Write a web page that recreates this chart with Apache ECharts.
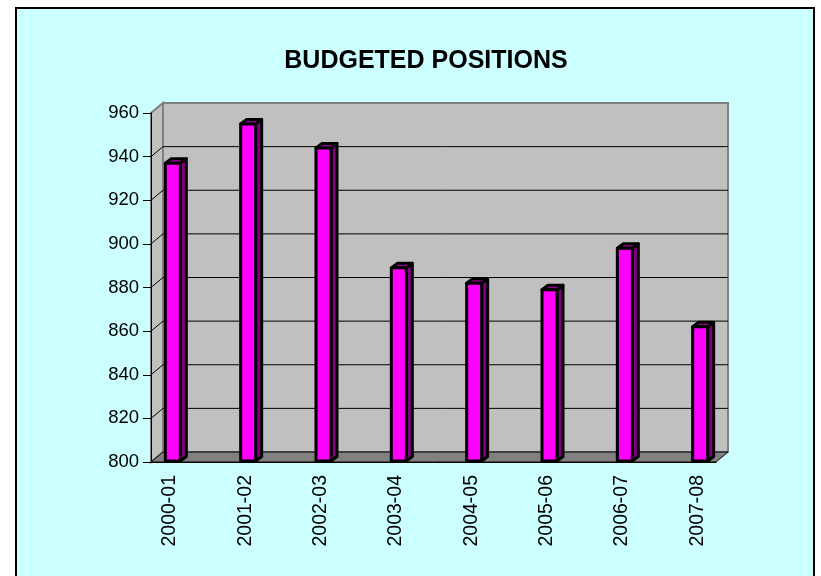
<!DOCTYPE html>
<html>
<head>
<meta charset="utf-8">
<script src="https://cdn.jsdelivr.net/npm/echarts@6/dist/echarts.min.js"></script>
<style>
  html, body { margin: 0; padding: 0; background: #ffffff; }
  #frame { position: absolute; left: 15px; top: 7px; width: 796px; height: 600px;
           border: 2px solid #000; background: #ccffff; }
  #chart { position: absolute; left: 0; top: 0; width: 821px; height: 576px; }
</style>
</head>
<body>
<div id="frame"></div>
<div id="chart"></div>
<script>
// fiscal years and budgeted positions
var years = ['2000-01', '2001-02', '2002-03', '2003-04', '2004-05', '2005-06', '2006-07', '2007-08'];
var positions = [937, 955, 944, 889, 882, 879, 898, 862];
var yTicks = [800, 820, 840, 860, 880, 900, 920, 940, 960];

// the Excel 3D axis puts every bar in every other slot, so spread them out
var slots = [];
for (var i = 0; i < years.length * 2 - 1; i++) {
    slots.push(i % 2 === 0 ? years[i / 2] : '');
}
var barData = years.map(function (y, i) { return [i * 2, positions[i]]; });

var DX = 12, DY = -10;   // depth of walls
var BDX = 6, BDY = -4.5; // depth of bars
var font = 'Liberation Sans, Arial, sans-serif';

var chart = echarts.init(document.getElementById('chart'));

var option = {
    animation: false,
    title: {
        text: 'BUDGETED POSITIONS',
        left: 421,
        top: 44,
        textAlign: 'center',
        textStyle: { fontFamily: font, fontSize: 25, fontWeight: 'bold', color: '#000' }
    },
    grid: { left: 151, right: 105, top: 113, bottom: 114 },
    xAxis: {
        type: 'category',
        data: slots,
        z: 5,
        boundaryGap: true,
        axisLine: { lineStyle: { color: '#000', width: 1 } },
        axisTick: { interval: 0, length: 8, lineStyle: { color: '#000' } },
        axisLabel: { interval: 0, rotate: 90, margin: 13, fontFamily: font, fontSize: 19.5, color: '#000' },
        splitLine: { show: false }
    },
    yAxis: {
        type: 'value',
        min: 800,
        max: 960,
        interval: 20,
        z: 5,
        axisLine: { show: true, lineStyle: { color: '#000', width: 1 } },
        axisTick: { show: true, length: 8, lineStyle: { color: '#000' } },
        axisLabel: { margin: 12, fontFamily: font, fontSize: 18.5, color: '#000' },
        splitLine: { show: false }
    },
    series: [
        {
            // walls, floor and grid lines of the 3D box
            type: 'custom',
            z: 1,
            silent: true,
            data: [[0, 800]],
            renderItem: function (params, api) {
                var cs = params.coordSys;
                var x0 = cs.x, x1 = cs.x + cs.width;
                var yB = api.coord([0, yTicks[0]])[1];
                var yT = api.coord([0, yTicks[yTicks.length - 1]])[1];
                var children = [
                    {
                        type: 'polygon',
                        shape: { points: [[x0, yB], [x0, yT], [x0 + DX, yT + DY], [x0 + DX, yB + DY]] },
                        style: { fill: '#c0c0c0', stroke: '#808080', lineWidth: 2 }
                    },
                    {
                        type: 'rect',
                        shape: { x: x0 + DX, y: yT + DY, width: x1 - x0, height: yB - yT },
                        style: { fill: '#c0c0c0', stroke: '#808080', lineWidth: 2 }
                    },
                    {
                        type: 'polygon',
                        shape: { points: [[x0, yB], [x1, yB], [x1 + DX, yB + DY], [x0 + DX, yB + DY]] },
                        style: { fill: '#808080', stroke: '#000', lineWidth: 1 }
                    }
                ];
                yTicks.forEach(function (t, k) {
                    if (k === 0 || k === yTicks.length - 1) return;
                    var y = api.coord([0, t])[1];
                    children.push({
                        type: 'line',
                        shape: { x1: x0 + DX, y1: y + DY, x2: x1 + DX, y2: y + DY },
                        style: { stroke: '#000', lineWidth: 1 }
                    });
                    children.push({
                        type: 'line',
                        shape: { x1: x0, y1: y, x2: x0 + DX, y2: y + DY },
                        style: { stroke: '#000', lineWidth: 1 }
                    });
                });
                return { type: 'group', children: children };
            }
        },
        {
            // 3D columns
            type: 'custom',
            name: 'Budgeted positions',
            z: 6,
            data: barData,
            renderItem: function (params, api) {
                var top = api.coord([api.value(0), api.value(1)]);
                var base = api.coord([api.value(0), 800]);
                var w = 15;
                var x = top[0] - 4.5;
                var yt = top[1], yb = base[1] - 1;
                var edge = { stroke: '#000', lineWidth: 3, lineJoin: 'round' };
                return {
                    type: 'group',
                    children: [
                        {
                            type: 'polygon',
                            shape: { points: [[x + w, yt], [x + w + BDX, yt + BDY], [x + w + BDX, yb + BDY], [x + w, yb]] },
                            style: Object.assign({ fill: '#800080' }, edge)
                        },
                        {
                            type: 'polygon',
                            shape: { points: [[x, yt], [x + BDX, yt + BDY], [x + w + BDX, yt + BDY], [x + w, yt]] },
                            style: Object.assign({ fill: '#990099' }, edge)
                        },
                        {
                            type: 'rect',
                            shape: { x: x, y: yt, width: w, height: yb - yt },
                            style: Object.assign({ fill: '#ff00ff' }, edge)
                        }
                    ]
                };
            }
        }
    ]
};

chart.setOption(option);
</script>
</body>
</html>
